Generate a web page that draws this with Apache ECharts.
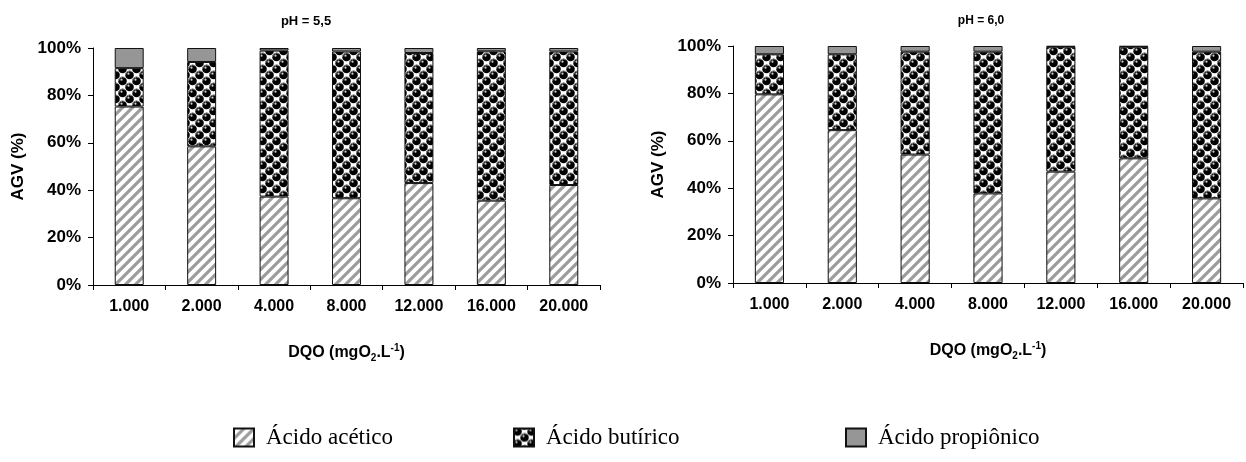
<!DOCTYPE html>
<html>
<head>
<meta charset="utf-8">
<script src="https://cdn.jsdelivr.net/npm/echarts@6/dist/echarts.min.js"></script>
<style>
html,body{margin:0;padding:0;background:#fff;}
#c{width:1246px;height:462px;}
</style>
</head>
<body>
<div id="c"></div>
<script>
// ---- data ----
const categories = ['1.000','2.000','4.000','8.000','12.000','16.000','20.000'];
const seriesNames = ['Ácido acético','Ácido butírico','Ácido propiônico'];
const titles = ['pH = 5,5','pH = 6,0'];
// pH 5,5 (%)
const acetic55 = [75.3, 58.5, 37.3, 36.6, 43.0, 35.6, 42.2];
const butyric55 = [16.2, 35.6, 61.6, 61.9, 54.9, 63.0, 56.3];
const propionic55 = [8.5, 5.9, 1.1, 1.5, 2.1, 1.4, 1.5];
// pH 6,0 (%)
const acetic60 = [79.6, 64.5, 54.2, 37.8, 47.0, 52.6, 35.7];
const butyric60 = [16.9, 32.0, 43.4, 59.8, 52.7, 47.1, 61.9];
const propionic60 = [3.5, 3.5, 2.4, 2.4, 0.3, 0.3, 2.4];
const yTicks = [0, 20, 40, 60, 80, 100];

// ---- patterns ----
function stripePattern(){
  const c = document.createElement('canvas');
  c.width = 10; c.height = 10;
  const g = c.getContext('2d');
  g.fillStyle = '#fff'; g.fillRect(0,0,10,10);
  g.strokeStyle = '#9c9c9c'; g.lineWidth = 3.2; g.lineCap = 'square';
  for (let k = -1; k <= 1; k++){
    g.beginPath(); g.moveTo(k*10, 10); g.lineTo(k*10+10, 0); g.stroke();
  }
  return c;
}
function spherePattern(){
  const W = 14, H = 12;
  const c = document.createElement('canvas');
  c.width = W; c.height = H;
  const g = c.getContext('2d');
  g.fillStyle = '#fff'; g.fillRect(0,0,W,H);
  const centers = [];
  for (let dx of [-W,0,W]) for (let dy of [-H,0,H]) {
    centers.push([3.5+dx, 3+dy]); centers.push([10.5+dx, 9+dy]);
  }
  centers.forEach(([x,y])=>{
    g.beginPath(); g.arc(x,y,4.3,0,Math.PI*2); g.fillStyle='#000'; g.fill();
  });
  centers.forEach(([x,y])=>{
    g.beginPath(); g.arc(x,y,4.0,Math.PI*1.0,Math.PI*1.75); g.strokeStyle='#8a8a8a'; g.lineWidth=1; g.stroke();
    g.beginPath(); g.arc(x-1.0,y-1.3,1.1,0,Math.PI*2); g.fillStyle='#cfcfcf'; g.fill();
  });
  return c;
}
const stripeFill = {image: stripePattern(), repeat: 'repeat'};
const sphereFill = {image: spherePattern(), repeat: 'repeat'};
const greyFill = '#969696';
const fills = [stripeFill, sphereFill, greyFill];

const chart = echarts.init(document.getElementById('c'), null, {renderer:'canvas'});
const font = 'Liberation Sans, Arial, sans-serif';

function xAxis(gridIndex){
  return {
    type:'category', gridIndex, data: categories,
    axisLine:{show:true, lineStyle:{color:'#000', width:1}},
    axisTick:{show:true, alignWithLabel:false, length:5, lineStyle:{color:'#000'}},
    axisLabel:{color:'#000', fontFamily:font, fontWeight:'bold', fontSize:16, margin:14},
    name:'DQO (mgO{sub|2}.L{sup|-1})',
    nameLocation:'middle', nameGap:58,
    nameTextStyle:{
      color:'#000', fontFamily:font, fontWeight:'bold', fontSize:16, lineHeight:20,
      rich:{
        sub:{fontFamily:font, fontWeight:'bold', fontSize:10, lineHeight:12, verticalAlign:'bottom', color:'#000'},
        sup:{fontFamily:font, fontWeight:'bold', fontSize:10, lineHeight:12, verticalAlign:'top', color:'#000'}
      }
    }
  };
}
function yAxis(gridIndex){
  return {
    type:'value', gridIndex, min:yTicks[0], max:yTicks[yTicks.length-1], interval:20,
    axisLine:{show:true, lineStyle:{color:'#000', width:1}},
    axisTick:{show:true, length:5, lineStyle:{color:'#000'}},
    splitLine:{show:false},
    axisLabel:{color:'#000', fontFamily:font, fontWeight:'bold', fontSize:17, margin:12, formatter:'{value}%'},
    name:'AGV (%)', nameLocation:'middle', nameGap:66,
    nameTextStyle:{color:'#000', fontFamily:font, fontWeight:'bold', fontSize:17}
  };
}
function mkSeries(idx, arrs){
  return arrs.map((arr,i)=>({
    type:'bar', name:seriesNames[i], stack:'s'+idx, xAxisIndex:idx, yAxisIndex:idx,
    data:arr, barWidth:'40%',
    itemStyle:{color:fills[i], borderColor:'#111', borderWidth:1},
    emphasis:{disabled:true}, animation:false
  }));
}
const legendBase = {
  orient:'horizontal', itemWidth:20, itemHeight:18, top:421,
  textStyle:{fontFamily:'Liberation Serif, Times New Roman, serif', fontSize:23, color:'#000', padding:[2,0,0,7]},
  selectedMode:false, icon:'rect'
};
chart.setOption({
  animation:false,
  backgroundColor:'#fff',
  title:[
    {text:titles[0], left:301, top:10, textAlign:'center', textStyle:{fontFamily:font, fontWeight:'bold', fontSize:13, color:'#000'}},
    {text:titles[1], left:976, top:10, textAlign:'center', textStyle:{fontFamily:font, fontWeight:'bold', fontSize:12, color:'#000'}}
  ],
  grid:[
    {left:93, right:646, top:48, bottom:177, containLabel:false},
    {left:733, right:3, top:46, bottom:179, containLabel:false}
  ],
  xAxis:[xAxis(0), xAxis(1)],
  yAxis:[yAxis(0), yAxis(1)],
  legend:[
    Object.assign({}, legendBase, {left:228, data:[seriesNames[0]]}),
    Object.assign({}, legendBase, {left:508, data:[seriesNames[1]]}),
    Object.assign({}, legendBase, {left:840, data:[seriesNames[2]]})
  ],
  series:[...mkSeries(0,[acetic55,butyric55,propionic55]), ...mkSeries(1,[acetic60,butyric60,propionic60])]
});
</script>
</body>
</html>
